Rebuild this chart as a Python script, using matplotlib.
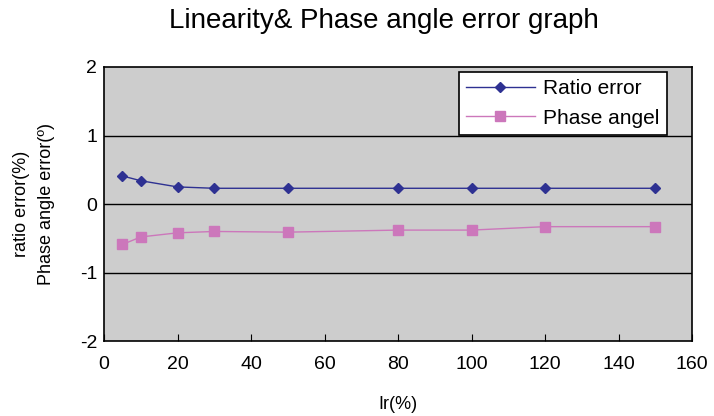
import matplotlib.pyplot as plt

plt.rcParams['font.family'] = ['Liberation Sans', 'DejaVu Sans']
plt.rcParams['axes.unicode_minus'] = False

# dados
ir = [5, 10, 20, 30, 50, 80, 100, 120, 150]
ratio_error = [0.41, 0.34, 0.25, 0.23, 0.23, 0.23, 0.23, 0.23, 0.23]
phase_angle = [-0.59, -0.48, -0.42, -0.40, -0.41, -0.38, -0.38, -0.33, -0.33]

fig = plt.figure(figsize=(7.14, 4.16), dpi=100)
ax = fig.add_axes([0.1457, 0.180, 0.8235, 0.659])
ax.set_facecolor('#cdcdcd')

ax.plot(ir, ratio_error, color='#2e3192', marker='D', markersize=5,
        linewidth=1, label='Ratio error')
ax.plot(ir, phase_angle, color='#cc77bb', marker='s', markersize=6.5,
        linewidth=1, label='Phase angel')

ax.set_xlim(0, 160)
ax.set_ylim(-2, 2)
ax.set_xticks(range(0, 161, 20))
ax.set_yticks([-2, -1, 0, 1, 2])
for y in [-1, 0, 1]:
    ax.axhline(y, color='black', linewidth=1, zorder=1)
for s in ax.spines.values():
    s.set_linewidth(1.2)
ax.tick_params(axis='x', direction='in', length=5, pad=11, labelsize=14)
ax.tick_params(axis='y', length=0, pad=5, labelsize=14)

ax.set_xlabel('Ir(%)', fontsize=13, labelpad=16)
ax.set_ylabel('ratio error(%)\nPhase angle error(º)', fontsize=13,
              labelpad=18, linespacing=1.6)
fig.suptitle('Linearity& Phase angle error graph', fontsize=20, x=0.538, y=0.98)

leg = ax.legend(loc='upper right', bbox_to_anchor=(0.957, 0.982), fontsize=15,
                frameon=True, fancybox=False, edgecolor='black', framealpha=1,
                handlelength=3.3, handletextpad=0.4, borderpad=0.35,
                labelspacing=0.5, borderaxespad=0)
leg.get_frame().set_linewidth(1.2)

fig.savefig('out.png', dpi=100)
